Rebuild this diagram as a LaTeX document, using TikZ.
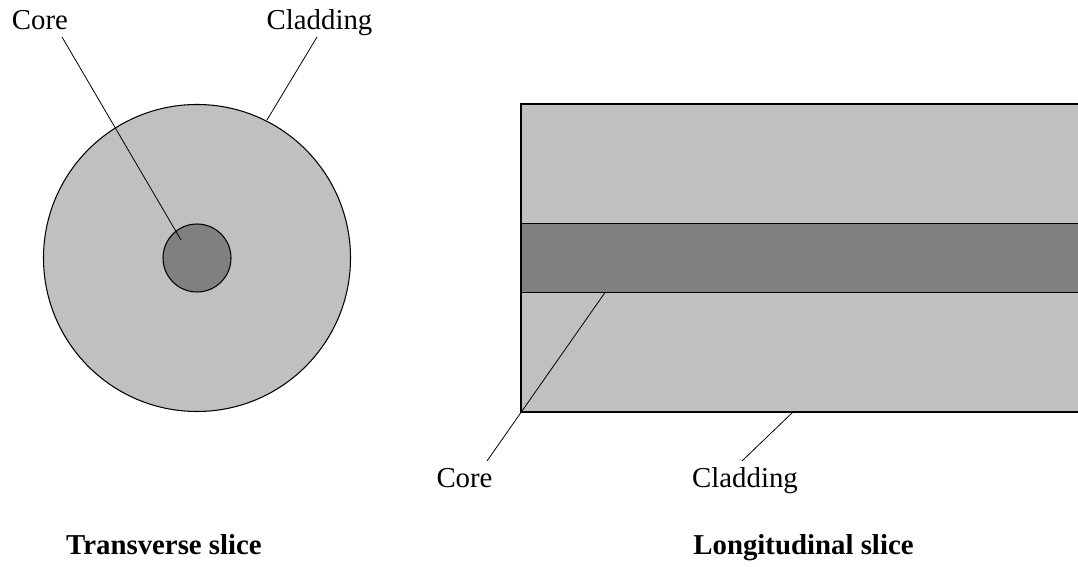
\documentclass[tikz,border=0pt]{standalone}
\usepackage{fontspec}
\setmainfont{Liberation Serif}
\usepackage{tikz}
\usetikzlibrary{positioning,calc}
\definecolor{CladColor}{HTML}{C0C0C0}
\definecolor{CoreColor}{HTML}{808080}

\tikzset{
  lbl/.style={anchor=base,inner sep=0pt,font=\fontsize{16.4}{19.7}\selectfont},
  ttl/.style={lbl,font=\fontsize{16.4}{19.7}\selectfont\bfseries},
  leader/.style={line width=0.45pt},
  part/.style={draw,line width=0.6pt}
}

\begin{document}
\begin{tikzpicture}[x=0.02cm,y=0.02cm]
  \useasboundingbox (0,0) rectangle (1078,567);
  \clip (0,0) rectangle (1078,567);

  % Transverse slice
  \coordinate (tc) at (197,309);
  \fill[CladColor] (tc) circle (153.5);
  \draw[part] (tc) circle (153.5);
  \fill[CoreColor] (tc) circle (34);
  \draw[part] (tc) circle (34);

  \node[lbl] (tcore) at (40,537) {Core};
  \node[lbl] (tclad) at (319.5,537) {Cladding};
  \coordinate (tcoreA) at (62,530);
  \coordinate (tcoreB) at (181,327);
  \coordinate (tcladA) at (317,530);
  \coordinate (tcladB) at (267,447);
  \draw[leader] (tcoreA) -- (tcoreB);
  \draw[leader] (tcladA) -- (tcladB);

  % Longitudinal slice
  \fill[CladColor] (521,155) rectangle (1090,463);
  \fill[CoreColor] (521,274.5) rectangle (1090,343.5);
  \draw[part] (1090,463) -- (521,463) -- (521,155) -- (1090,155);
  \draw[part] (521,343.5) -- (1090,343.5);
  \draw[part] (521,274.5) -- (1090,274.5);

  \node[lbl] (lcore) at (464.5,79) {Core};
  \node[lbl] (lclad) at (745,79) {Cladding};
  \coordinate (lcoreA) at (605,274.5);
  \coordinate (lcoreB) at (487,106);
  \coordinate (lcladA) at (793,155);
  \coordinate (lcladB) at (742,106);
  \draw[leader] (lcoreA) -- (lcoreB);
  \draw[leader] (lcladA) -- (lcladB);

  % Captions
  \node[ttl] (ttitle) at (164,12) {Transverse slice};
  \node[ttl] (ltitle) at (803.5,12) {Longitudinal slice};
\end{tikzpicture}
\end{document}
